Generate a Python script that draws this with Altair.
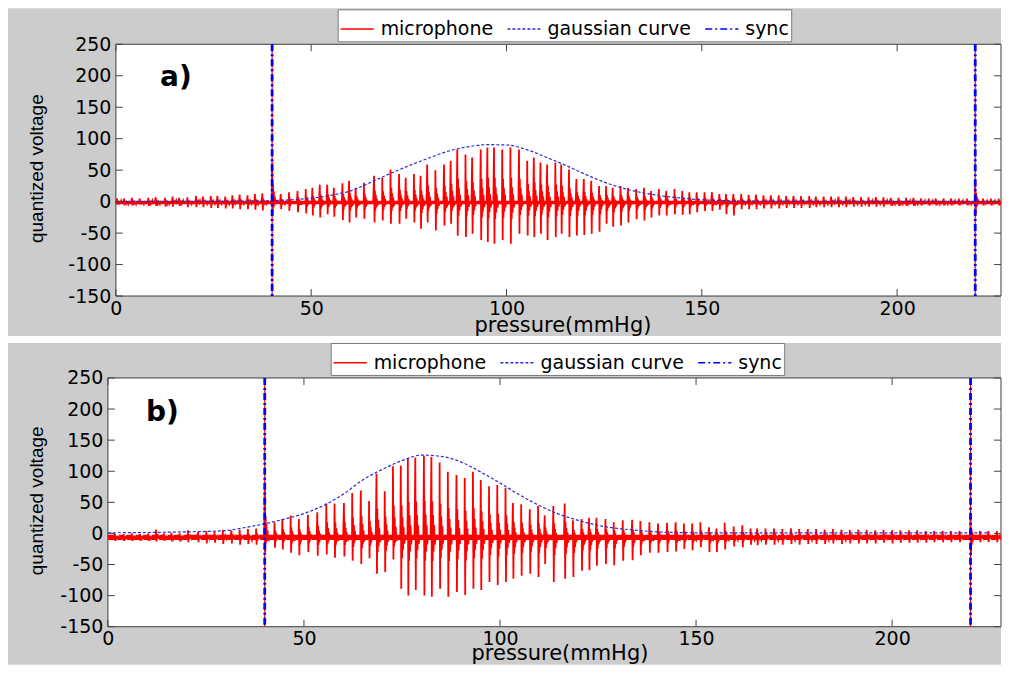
import altair as alt
import pandas as pd

alt.data_transformers.disable_max_rows()

# ---------------- data ----------------
SERIES = ["microphone", "gaussian curve", "sync"]
COLORS = ["#ff0000", "#2a2ad4", "#0000ff"]
DASHES = [[1, 0], [3, 2], [7, 3, 2, 3]]

X_TICKS = [0, 50, 100, 150, 200]
Y_TICKS = [-150, -100, -50, 0, 50, 100, 150, 200, 250]
SYNC_X = [40, 220]

GAUSS_X = [0, 5, 10, 15, 20, 25, 30, 35, 40, 45, 50, 55, 60, 65, 70, 75, 80, 85, 90, 95,
           100, 105, 110, 115, 120, 125, 130, 135, 140, 145, 150, 155, 160, 165, 170, 175,
           180, 185, 190, 195, 200, 205, 210, 215, 220, 225]

# panel a)
TOP_GAUSS = [0.0, 0.0, 0.1, 0.1, 0.2, 0.4, 0.7, 1.1, 1.7, 3.0,
             5.5, 10, 17, 30, 44, 57, 69, 80, 87, 90.5,
             90, 83, 71, 58, 44, 31, 21, 14, 9, 5.5,
             3.0, 1.8, 1.0, 0.6, 0.4, 0.3, 0.2, 0.1, 0.1, 0,
             0, 0, 0, 0, 0, 0]
TOP_BEAT_X = [0.3, 2.1, 4.1, 6.1, 8.3, 10.2, 12.6, 14.5, 16.2, 18.3, 20.5, 22.3, 24.3, 26.0,
              28.0, 29.8, 31.7, 33.7, 35.6, 37.5,
              40.0,
              42.2, 44.3, 46.5, 48.6, 50.3, 52.2, 54.1, 55.8, 58.0, 59.7, 61.4, 63.5, 66.1,
              68.2, 70.3, 72.5, 74.2, 76.3, 78.0, 79.7, 81.8, 84.0, 85.7, 87.4, 89.5, 91.2,
              93.4, 95.1, 96.8, 98.9, 101.0, 103.2, 105.3, 107.0, 108.7, 110.4, 112.5,
              114.0, 116.0, 117.9, 119.8, 121.7, 123.7, 125.5, 127.2, 129.2, 131.1, 133.2,
              135.2, 137.0, 139.0, 140.9, 143.0, 145.0, 146.8, 148.7, 150.7, 152.6, 154.5,
              156.2, 158.1, 160.1, 162.0,
              163.9, 165.8, 167.7, 169.7, 171.6, 173.5, 175.4, 177.5, 179.2, 181.2, 183.1,
              185.0, 186.9, 188.8, 190.8, 192.7, 194.6, 196.5, 198.4, 200.4, 202.3, 204.2,
              206.1, 208.1, 209.9,
              211.9, 213.8, 215.8, 217.9,
              220.0,
              222.0, 224.0, 226.0]
TOP_BEAT_POS = [5, 5, 6, 5, 6, 7, 6, 8, 6, 7, 9, 8, 9, 9, 8, 10, 11, 10, 12, 13,
                62,
                12, 15, 17, 20, 22, 27, 27, 22, 29, 33, 22, 30, 41, 38, 51, 44, 38, 44, 41,
                59, 50, 59, 65, 83, 75, 70, 83, 86, 86, 83, 86, 83, 65, 70, 62, 59, 62,
                59, 51, 36, 36, 33, 25, 25, 22, 25, 22, 20, 22, 17, 20, 17, 20, 17, 15, 15,
                15, 15, 12, 12, 12, 12, 11,
                11, 10, 10, 10, 9, 9, 9, 9, 8, 8, 8, 8, 8, 7, 7, 7, 7, 7, 6, 6, 6, 6, 5, 5, 5,
                5, 5, 5, 5,
                33,
                5, 5, 5]
TOP_BEAT_NEG = [-5, -6, -6, -5, -7, -7, -8, -8, -7, -9, -9, -9, -10, -10, -11, -11, -12, -12,
                -13, -14,
                -22,
                -12, -15, -17, -19, -22, -25, -20, -24, -29, -33, -25, -27, -33, -30, -35,
                -35, -27, -33, -43, -33, -46, -38, -35, -54, -56, -51, -61, -64, -67, -61,
                -67, -51, -54, -56, -51, -61, -56,
                -51, -56, -54, -53, -51, -48, -35, -40, -38, -33, -28, -30, -25, -22, -22,
                -20, -21, -20, -17, -15, -15, -13, -20, -22, -12, -12,
                -12, -11, -11, -11, -10, -10, -10, -10, -9, -9, -9, -9, -9, -8, -8, -8, -8,
                -8, -7, -7, -7, -7, -6, -6, -6,
                -6, -6, -6, -6,
                -20,
                -6, -6, -6]
TOP_BASE = -1.5
TOP_NOISE = 2.5

# panel b)
BOT_GAUSS = [1.0, 1.2, 1.5, 2.0, 2.5, 3.2, 4.5, 9.5, 15.5, 23,
             32, 45, 63, 86, 103, 117, 126, 124, 115, 99,
             81, 62, 45, 31, 21, 13, 8, 5, 2.5, 1.5,
             1.0, 1.0, 1.0, 1.0, 1.0, 1.0, 1.0, 1.0, 1.0, 1.0,
             1.0, 1.0, 1.0, 1.0, 1.0, 1.0]
BOT_BEAT_X = [1.8, 4.0, 6.1, 8.2, 10.3, 12.3, 14.3, 16.2, 18.3, 20.4, 23.0, 25.1, 27.2, 29.3,
              31.5, 33.6, 35.7, 37.8,
              40.0,
              42.5, 44.5, 46.6, 48.7, 51.0, 53.4, 55.7, 57.8, 60.2, 62.3, 64.5, 66.6, 68.5,
              70.6, 72.7, 74.7, 76.5, 78.4, 80.6, 82.5, 84.6, 86.7, 88.9, 91.0, 93.1, 95.1,
              97.2, 99.3, 101.4, 103.3, 105.4, 107.6, 109.7, 111.4,
              113.6, 116.5, 118.6, 120.8, 122.7, 124.6, 126.9, 129.0, 131.3, 133.7, 135.8,
              138.1, 140.3, 142.6, 144.8, 146.9, 149.0, 151.1, 153.3, 155.2, 157.3, 159.6,
              161.8, 163.9, 165.6, 167.7,
              169.9, 172.0, 174.2, 176.3, 178.5, 180.6, 182.8, 184.9, 187.1, 189.2, 191.4,
              193.5, 195.7, 197.8, 200.0, 202.1, 204.3, 206.4, 208.6, 210.7, 212.9, 215.0,
              217.2,
              220.0,
              222.4, 224.5, 226.7]
BOT_BEAT_POS = [-1, -1, 0, -1, 0, 6, 0, 1, 0, 5, 2, 4, 3, 6, 5, 6, 7, 8,
                70,
                18, 23, 29, 23, 30, 34, 48, 48, 49, 65, 69, 52, 96, 68, 108, 109, 121, 122,
                125, 123, 114, 99, 94, 89, 99, 86, 76, 78, 73, 49, 47, 39, 44, 29,
                44, 48, 21, 23, 25, 25, 23, 18, 21, 22, 20, 18, 16, 17, 18, 16, 16, 18, 10,
                8, 17, 11, 13, 8, 8, 8,
                8, 7, 8, 7, 7, 7, 6, 7, 6, 6, 6, 6, 5, 6, 5, 5, 5, 5, 4, 4, 4, 4, 4,
                26,
                4, 4, 4]
BOT_BEAT_NEG = [-12, -12, -12, -12, -12, -13, -12, -13, -13, -14, -14, -16, -15, -17, -16,
                -18, -17, -18,
                -30,
                -23, -26, -31, -35, -30, -36, -34, -39, -37, -44, -49, -40, -65, -62, -42,
                -89, -100, -91, -100, -102, -89, -102, -94, -99, -89, -91, -78, -83, -78,
                -73, -68, -65, -70, -49,
                -78, -73, -70, -60, -59, -52, -49, -51, -44, -43, -35, -31, -31, -30, -29,
                -25, -27, -22, -30, -30, -26, -21, -22, -18, -19, -18,
                -18, -18, -17, -18, -17, -17, -17, -16, -17, -16, -16, -16, -16, -15, -16,
                -15, -15, -15, -15, -14, -14, -14, -14,
                -36,
                -14, -14, -14]
BOT_BASE = -6.5
BOT_NOISE = 4.0

# shape of one heartbeat in the microphone trace: (offset in mmHg, share of peak, side)
BEAT_SHAPE = [(0.0, 1.0, 1), (0.12, 1.0, -1), (0.22, 0.45, 1), (0.32, 0.4, -1),
              (0.44, 0.28, 1), (0.56, 0.24, -1), (0.70, 0.15, 1), (0.86, 0.12, -1)]
NOISE_STEP = 0.17

FONT = "DejaVu Sans"


def mic_frame(bx, bp, bn, base, noise, x_end):
    xs, ys = [], []
    t, sign = 0.0, 1
    for x0, p, n in zip(bx, bp, bn):
        while t < x0 - 0.04:
            xs.append(t)
            ys.append(base + sign * noise)
            sign = -sign
            t += NOISE_STEP
        for dx, share, side in BEAT_SHAPE:
            amp = (p - base) if side > 0 else (n - base)
            xs.append(x0 + dx)
            ys.append(base + share * amp)
        t = x0 + BEAT_SHAPE[-1][0] + NOISE_STEP
    while t <= x_end:
        xs.append(t)
        ys.append(base + sign * noise)
        sign = -sign
        t += NOISE_STEP
    return pd.DataFrame({"x": xs, "y": ys, "series": "microphone"})


def panel(bx, bp, bn, base, noise, gauss, px_per_unit, inset, W, H, leg_x, leg_y,
          label, lab_x, lab_y, title_x, xtitle_x, xtitle_y, gray_box):
    x_lo = -inset / px_per_unit
    x_hi = (W - inset) / px_per_unit
    xs = alt.Scale(domain=[x_lo, x_hi], nice=False, zero=False)
    ys = alt.Scale(domain=[-150, 250], nice=False, zero=False)
    x_axis = alt.Axis(values=X_TICKS, ticks=False, domain=False, grid=False,
                      labelFont=FONT, labelFontSize=19, labelColor="black",
                      labelPadding=3, labelFlush=False, labelOverlap=False,
                      title="pressure(mmHg)", titleFont=FONT, titleFontSize=21,
                      titleFontWeight="normal", titleColor="black",
                      titleX=xtitle_x, titleY=xtitle_y, titleAlign="center",
                      titleBaseline="alphabetic", zindex=1)
    y_axis = alt.Axis(values=Y_TICKS, ticks=False, domain=False, grid=False,
                      offset=-inset,
                      labelFont=FONT, labelFontSize=19, labelColor="black",
                      labelPadding=5, labelFlush=False, labelOverlap=False,
                      labelExpr="datum.value + ''",
                      title="quantized voltage", titleFont="Liberation Sans",
                      titleFontSize=19, titleFontWeight="normal", titleColor="black",
                      titleX=title_x, titleY=H / 2 - 2, titleAngle=270,
                      titleAlign="center", titleBaseline="middle", zindex=1)
    X = alt.X("x:Q", scale=xs, axis=x_axis)
    Y = alt.Y("y:Q", scale=ys, axis=y_axis)
    leg = alt.Legend(title=None, orient="none", legendX=leg_x, legendY=leg_y,
                     direction="horizontal", symbolType="stroke", symbolSize=1100,
                     symbolStrokeWidth=1.5, labelFont=FONT, labelFontSize=19,
                     labelColor="black", labelOffset=6, columnPadding=10, padding=2,
                     fillColor="white", strokeColor="#7a7a7a", zindex=1)
    C = alt.Color("series:N", scale=alt.Scale(domain=SERIES, range=COLORS), legend=leg)
    D = alt.StrokeDash("series:N", scale=alt.Scale(domain=SERIES, range=DASHES), legend=leg)

    one = pd.DataFrame({"k": [0]})
    gx0, gx1, gy0, gy1 = gray_box
    gray = alt.Chart(one).mark_rect(fill="#cccccc").encode(
        x=alt.value(gx0), x2=alt.value(gx1), y=alt.value(gy0), y2=alt.value(gy1))
    plot_bg = alt.Chart(one).mark_rect(fill="white", stroke="#3c3c3c", strokeWidth=1).encode(
        x=alt.value(inset), x2=alt.value(W), y=alt.value(0), y2=alt.value(H))

    sync_df = pd.DataFrame({"x": SYNC_X, "series": "sync"})
    sync_red = alt.Chart(sync_df).mark_rule(color="#ff0000", strokeWidth=1.2).encode(
        x=X, y=alt.value(0), y2=alt.value(H))
    mic = alt.Chart(mic_frame(bx, bp, bn, base, noise, x_hi)).mark_line(
        strokeWidth=1.8, clip=True).encode(x=X, y=Y, color=C, strokeDash=D)
    g_df = pd.DataFrame({"x": GAUSS_X, "y": gauss, "series": "gaussian curve"})
    gauss_line = alt.Chart(g_df).mark_line(strokeWidth=1.2, interpolate="monotone",
                                           clip=True).encode(x=X, y=Y, color=C, strokeDash=D)
    sync = alt.Chart(sync_df).mark_rule(strokeWidth=2.8).encode(
        x=X, y=alt.value(0), y2=alt.value(H), color=C, strokeDash=D)

    yt = pd.DataFrame({"y": Y_TICKS})
    xt = pd.DataFrame({"x": X_TICKS})
    tick_l = alt.Chart(yt).mark_rule(color="#444444").encode(
        y=Y, x=alt.value(inset), x2=alt.value(inset + 7))
    tick_r = alt.Chart(yt).mark_rule(color="#444444").encode(
        y=Y, x=alt.value(W - 7), x2=alt.value(W))
    tick_t = alt.Chart(xt).mark_rule(color="#444444").encode(x=X, y=alt.value(0), y2=alt.value(7))
    tick_b = alt.Chart(xt).mark_rule(color="#444444").encode(x=X, y=alt.value(H - 7), y2=alt.value(H))

    lab = alt.Chart(pd.DataFrame({"x": [lab_x], "y": [lab_y], "t": [label]})).mark_text(
        font=FONT, fontWeight="bold", fontSize=28, align="left", baseline="alphabetic",
        color="black").encode(x=X, y=Y, text="t:N")

    return alt.layer(gray, plot_bg, sync_red, mic, gauss_line, sync,
                     tick_l, tick_r, tick_t, tick_b, lab).properties(width=W, height=H)


# both panels start at x = 108 (page) and end at 1002 (the page is 994 px wide inside
# its margins); the upper plot area is inset by 8 px, as in the original figure
W, H1, H2 = 894, 252, 249

top = panel(TOP_BEAT_X, TOP_BEAT_POS, TOP_BEAT_NEG, TOP_BASE, TOP_NOISE, TOP_GAUSS,
            3.91, 8, W, H1, 230, -35, "a)", 11.3, 184, -79, 455, 35,
            (-100, W, -36, H1 + 40))
bottom = panel(BOT_BEAT_X, BOT_BEAT_POS, BOT_BEAT_NEG, BOT_BASE, BOT_NOISE, BOT_GAUSS,
               3.925, 0, W, H2, 223, -35, "b)", 9.7, 181, -71, 452, 33,
               (-100, W, -35, H2 + 38))

chart = alt.vconcat(top, bottom, spacing=82, bounds="flush").resolve_scale(
    x="independent", y="independent", color="independent", strokeDash="independent"
).resolve_legend(color="independent", strokeDash="independent").properties(
    padding={"left": 0, "top": 0, "right": 0, "bottom": 0},
    autosize=alt.AutoSizeParams(type="pad", contains="content"),
    background="white"
).configure_view(stroke=None)

chart.save("out.html", embed_options={"renderer": "svg", "actions": False})
